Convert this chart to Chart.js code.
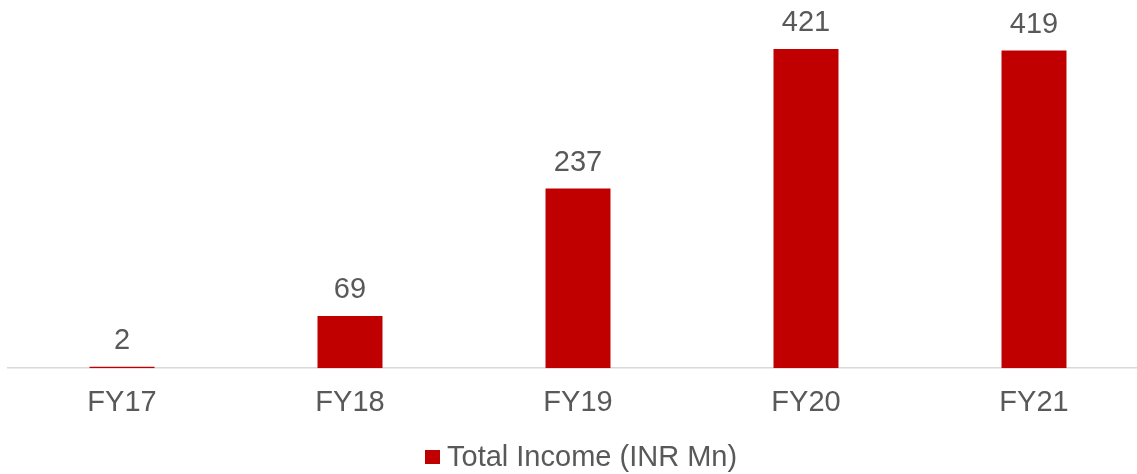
<!DOCTYPE html>
<html>
<head>
<meta charset="utf-8">
<script src="https://cdn.jsdelivr.net/npm/chart.js@4"></script>
<style>
    html, body { margin: 0; padding: 0; background: #fff; overflow: hidden; }
    #wrap { width: 1148px; height: 474px; }
</style>
</head>
<body>
<div id="wrap"><canvas id="income-chart" width="1148" height="474"></canvas></div>
<script>
/************** chart data ****************/
const fiscalYears = ["FY17", "FY18", "FY19", "FY20", "FY21"];
const incomeValues = [2, 69, 237, 421, 419];
const seriesName = "Total Income (INR Mn)";

const barColor = "#c00000";
const textColor = "#595959";
const fontFamily = '"Liberation Sans", Arial, sans-serif';

/************** value labels over bars ****************/
const valueLabels = {
    id: "valueLabels",
    afterDatasetsDraw(chart) {
        const ctx = chart.ctx;
        const meta = chart.getDatasetMeta(0);
        ctx.save();
        ctx.font = "29px " + fontFamily;
        ctx.fillStyle = textColor;
        ctx.textAlign = "center";
        ctx.textBaseline = "alphabetic";
        meta.data.forEach((bar, i) => {
            ctx.fillText(incomeValues[i], bar.x, bar.y - 18);
        });
        ctx.restore();
    }
};

/************** legend under the axis (tight box/text gap) ****************/
const bottomLegend = {
    id: "bottomLegend",
    afterDraw(chart) {
        const ctx = chart.ctx;
        const ds = chart.data.datasets[0];
        const area = chart.chartArea;
        ctx.save();
        ctx.font = "29px " + fontFamily;
        const textW = ctx.measureText(ds.label).width;
        const boxW = 15, boxH = 14, gap = 7;
        const total = boxW + gap + textW;
        const x0 = Math.round((area.left + area.right) / 2 + 3 - total / 2);
        const baseY = 466;
        ctx.fillStyle = ds.backgroundColor;
        ctx.fillRect(x0, baseY - 16, boxW, boxH);
        ctx.fillStyle = textColor;
        ctx.textAlign = "left";
        ctx.textBaseline = "alphabetic";
        ctx.fillText(ds.label, x0 + boxW + gap, baseY);
        ctx.restore();
    }
};

const data = {
    labels: fiscalYears,
    datasets: [{
        label: seriesName,
        data: incomeValues,
        backgroundColor: barColor,
        borderWidth: 0,
        barPercentage: 0.285,
        categoryPercentage: 1
    }]
};

const config = {
    type: "bar",
    data: data,
    plugins: [valueLabels, bottomLegend],
    options: {
        responsive: false,
        animation: false,
        layout: {
            padding: { top: 27, left: 8, right: 0, bottom: 37 }
        },
        plugins: {
            legend: { display: false },
            tooltip: { enabled: false }
        },
        scales: {
            x: {
                grid: { display: false, drawTicks: false },
                border: { display: true, color: "#d9d9d9", width: 1.5 },
                ticks: {
                    color: textColor,
                    font: { family: fontFamily, size: 29 },
                    padding: 17
                }
            },
            y: {
                display: false,
                min: 0,
                max: 450
            }
        }
    }
};

const incomeChart = new Chart(document.getElementById("income-chart"), config);
</script>
</body>
</html>
